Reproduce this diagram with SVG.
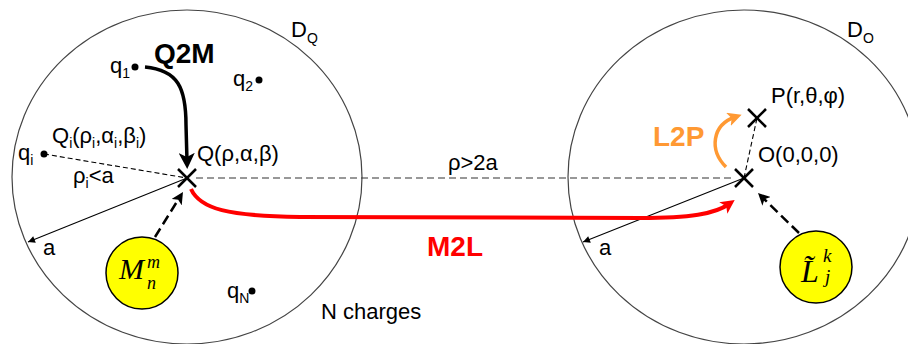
<svg xmlns="http://www.w3.org/2000/svg" width="908" height="344" viewBox="0 0 908 344">
<style>
.t{font-family:"Liberation Sans",Arial,sans-serif;font-size:22px;fill:#000}
.b{font-family:"Liberation Sans",Arial,sans-serif;font-weight:bold;font-size:28px}
.m{font-family:"Liberation Serif","Times New Roman",serif;font-style:italic;fill:#000}
.dom{fill:none;stroke:#444;stroke-width:1.2}
.cross{stroke:#000;stroke-width:2.5}
.thin{stroke:#000;stroke-width:1.1;fill:none}
.dash{stroke:#333;stroke-width:1.2;stroke-dasharray:7,4;fill:none}
.dot{fill:#000}
</style>
<defs>
<marker id="ahB" viewBox="0 0 10 10" refX="5" refY="5" markerUnits="userSpaceOnUse" markerWidth="16" markerHeight="16" orient="auto"><path d="M0,0 L10,5 L0,10 L2.5,5 z" fill="#000"/></marker>
<marker id="ahD" viewBox="0 0 10 10" refX="5" refY="5" markerUnits="userSpaceOnUse" markerWidth="12" markerHeight="12" orient="auto"><path d="M0,0 L10,5 L0,10 L2.5,5 z" fill="#000"/></marker>
<marker id="ahR" viewBox="0 0 10 10" refX="5" refY="5" markerUnits="userSpaceOnUse" markerWidth="14" markerHeight="14" orient="auto"><path d="M0,0 L10,5 L0,10 L2.5,5 z" fill="#FF0000"/></marker>
<marker id="ahO" viewBox="0 0 10 10" refX="5" refY="5" markerUnits="userSpaceOnUse" markerWidth="14" markerHeight="14" orient="auto"><path d="M0,0 L10,5 L0,10 L2.5,5 z" fill="#FF9933"/></marker>
<marker id="ahS" viewBox="0 0 10 10" refX="10" refY="5" markerUnits="userSpaceOnUse" markerWidth="9" markerHeight="7" orient="auto"><path d="M0,0 L10,5 L0,10 z" fill="#000"/></marker>
</defs>

<g id="domainQ">
<ellipse class="dom" cx="187" cy="177" rx="175" ry="167"/>
<text class="t" x="291" y="37">D<tspan font-size="14" dy="6">Q</tspan></text>
</g>
<g id="domainO">
<ellipse class="dom" cx="744" cy="177" rx="176" ry="167"/>
<text class="t" x="847" y="37">D<tspan font-size="14" dy="6">O</tspan></text>
</g>

<g id="connectors">
<line class="dash" x1="196" y1="178" x2="735" y2="178"/>
<line class="thin" x1="44" y1="154" x2="187" y2="178" stroke-dasharray="5,3"/>
<line class="thin" x1="744" y1="178" x2="757" y2="118" stroke-dasharray="5,3"/>
<line class="thin" x1="187" y1="178" x2="28" y2="242" marker-end="url(#ahS)"/>
<line class="thin" x1="744" y1="178" x2="583" y2="242" marker-end="url(#ahS)"/>
<path d="M145,67 C178,70 186,88 186,125 L187,161" fill="none" stroke="#000" stroke-width="3.5" marker-end="url(#ahB)"/>
<line x1="155" y1="237" x2="179.8" y2="197.1" stroke="#000" stroke-width="2.5" stroke-dasharray="10,5" marker-end="url(#ahD)"/>
<line x1="799" y1="233" x2="762.3" y2="197.2" stroke="#000" stroke-width="2.5" stroke-dasharray="10,5" marker-end="url(#ahD)"/>
<path d="M191,189 C200,209 228,216 300,217 L640,218 C690,218 715,214 729,204" fill="none" stroke="#FF0000" stroke-width="4" marker-end="url(#ahR)"/>
<path d="M726,167 C709,150 712,125 735,117" fill="none" stroke="#FF9933" stroke-width="3.5" marker-end="url(#ahO)"/>
</g>

<g id="Q">
<line class="cross" x1="178" y1="169" x2="196" y2="187"/>
<line class="cross" x1="196" y1="169" x2="178" y2="187"/>
<text class="t" x="197" y="161">Q(ρ,α,β)</text>
</g>
<g id="O">
<line class="cross" x1="735" y1="169" x2="753" y2="187"/>
<line class="cross" x1="753" y1="169" x2="735" y2="187"/>
<text class="t" x="758" y="162">O(0,0,0)</text>
</g>
<g id="P">
<line class="cross" x1="748" y1="109" x2="766" y2="127"/>
<line class="cross" x1="766" y1="109" x2="748" y2="127"/>
<text class="t" x="771" y="103">P(r,θ,φ)</text>
</g>

<g id="q1"><circle class="dot" cx="135" cy="67" r="3.5"/><text class="t" x="110" y="73">q<tspan font-size="14" dy="5">1</tspan></text></g>
<g id="q2"><circle class="dot" cx="259" cy="80" r="3.5"/><text class="t" x="233" y="86">q<tspan font-size="14" dy="5">2</tspan></text></g>
<g id="qi"><circle class="dot" cx="44" cy="154" r="3.5"/><text class="t" x="18" y="160">q<tspan font-size="14" dy="5">i</tspan></text></g>
<g id="qN"><circle class="dot" cx="252" cy="291" r="3.5"/><text class="t" x="227" y="298">q<tspan font-size="14" dy="5">N</tspan></text></g>

<g id="labels">
<text class="t" x="52" y="143">Q<tspan font-size="14" dy="5">i</tspan><tspan dy="-5">(ρ</tspan><tspan font-size="14" dy="5">i</tspan><tspan dy="-5">,α</tspan><tspan font-size="14" dy="5">i</tspan><tspan dy="-5">,β</tspan><tspan font-size="14" dy="5">i</tspan><tspan dy="-5">)</tspan></text>
<text class="t" x="73" y="183">ρ<tspan font-size="14" dy="5">i</tspan><tspan dy="-5">&lt;a</tspan></text>
<text class="t" x="448" y="170">ρ&gt;2a</text>
<text class="t" x="43" y="255">a</text>
<text class="t" x="599" y="255">a</text>
<text class="t" x="321" y="319">N charges</text>
<text class="b" x="154" y="63" fill="#000">Q2M</text>
<text class="b" x="427" y="256" fill="#FF0000" font-size="29">M2L</text>
<text class="b" x="653" y="146" fill="#FF9933">L2P</text>
</g>

<g id="multipole">
<circle cx="142" cy="273" r="36" fill="#FFFF00" stroke="#000" stroke-width="1.5"/>
<text class="m" x="119" y="279" font-size="30">M</text>
<text class="m" x="147" y="268" font-size="18">m</text>
<text class="m" x="147" y="289" font-size="18">n</text>
</g>
<g id="local">
<circle cx="816" cy="267" r="36" fill="#FFFF00" stroke="#000" stroke-width="1.5"/>
<text class="m" x="801" y="282" font-size="32">L&#x303;</text>
<text class="m" x="823" y="262" font-size="19">k</text>
<text class="m" x="825" y="283" font-size="19">j</text>
</g>
</svg>
